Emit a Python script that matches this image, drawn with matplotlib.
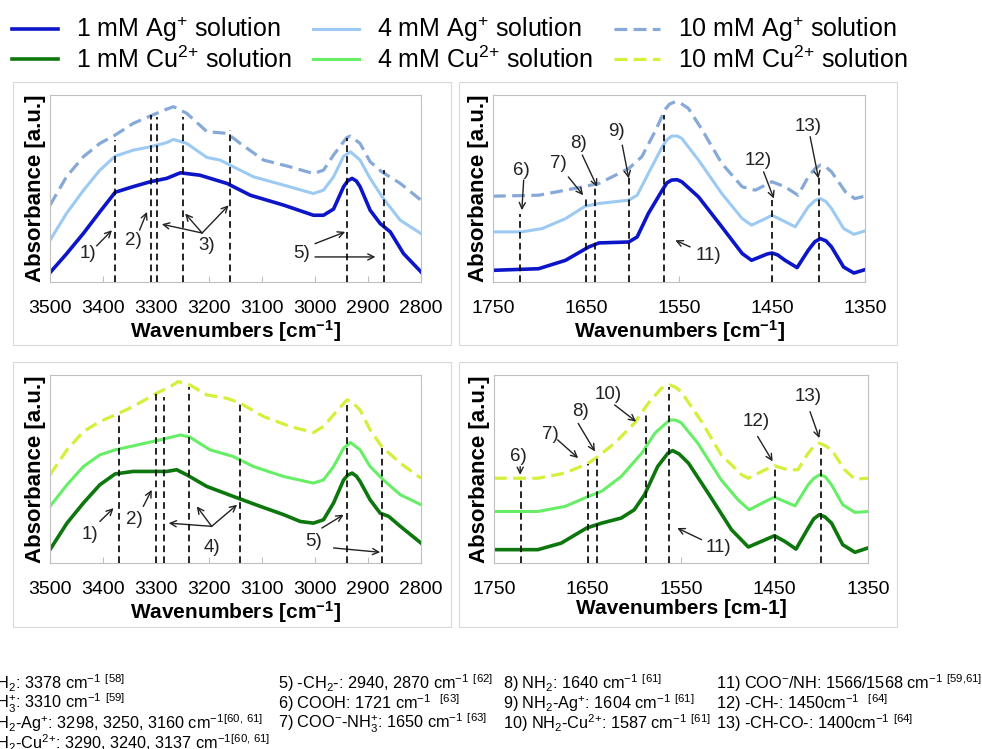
import matplotlib
matplotlib.use("Agg")
import matplotlib.pyplot as plt
from matplotlib.patches import Rectangle

plt.rcParams['font.family'] = ['Liberation Sans', 'DejaVu Sans']
plt.rcParams['mathtext.fontset'] = 'custom'
plt.rcParams['mathtext.rm'] = 'Liberation Sans'
plt.rcParams['mathtext.bf'] = 'Liberation Sans:bold'
plt.rcParams['mathtext.default'] = 'regular'

W, H = 982, 749

# ---- top left: Ag+, 3500-2800 cm-1
tl_ag1_wn = [3500, 3469, 3437, 3406, 3377, 3343, 3311, 3280, 3254, 3217, 3166, 3122, 3059, 3003, 2984, 2965, 2946, 2938, 2930, 2922, 2915, 2896, 2877, 2858, 2833, 2800]
tl_ag1_abs = [0.05, 0.15, 0.26, 0.375, 0.48, 0.51, 0.536, 0.554, 0.584, 0.571, 0.527, 0.464, 0.411, 0.357, 0.357, 0.39, 0.51, 0.542, 0.554, 0.54, 0.51, 0.384, 0.3125, 0.268, 0.152, 0.054]
tl_ag4_wn = [3500, 3469, 3437, 3406, 3377, 3343, 3311, 3280, 3267, 3242, 3204, 3179, 3154, 3116, 3059, 3003, 2984, 2965, 2946, 2933, 2915, 2896, 2871, 2839, 2800]
tl_ag4_abs = [0.223, 0.366, 0.49, 0.598, 0.673, 0.705, 0.723, 0.745, 0.7625, 0.741, 0.666, 0.652, 0.616, 0.5625, 0.518, 0.473, 0.491, 0.5625, 0.673, 0.696, 0.652, 0.554, 0.446, 0.33, 0.259]
tl_ag10_wn = [3500, 3469, 3437, 3406, 3377, 3343, 3311, 3280, 3267, 3242, 3204, 3166, 3141, 3097, 3047, 3003, 2984, 2965, 2940, 2933, 2915, 2896, 2874, 2839, 2800]
tl_ag10_abs = [0.41, 0.5625, 0.67, 0.741, 0.786, 0.848, 0.8875, 0.924, 0.9375, 0.902, 0.804, 0.795, 0.741, 0.652, 0.616, 0.58, 0.598, 0.679, 0.773, 0.78, 0.741, 0.643, 0.589, 0.527, 0.4375]
tl_marks = [3378, 3310, 3298, 3250, 3160, 2940, 2870]
tl_marks_top = [0.759, 0.893, 0.884, 0.884, 0.8125, 0.768, 0.598]

# ---- top right: Ag+, 1750-1350 cm-1
tr_ag1_wn = [1750, 1701, 1672, 1647, 1636, 1604, 1595, 1583, 1568, 1563, 1558, 1552, 1547, 1529, 1504, 1482, 1472, 1455, 1450, 1444, 1436, 1423, 1411, 1404, 1398, 1392, 1386, 1373, 1362, 1350]
tr_ag1_abs = [0.0625, 0.071, 0.116, 0.1875, 0.209, 0.214, 0.241, 0.366, 0.491, 0.53, 0.545, 0.547, 0.536, 0.455, 0.295, 0.152, 0.116, 0.15, 0.155, 0.145, 0.116, 0.077, 0.17, 0.215, 0.232, 0.22, 0.1875, 0.08, 0.048, 0.066]
tr_ag4_wn = [1750, 1719, 1697, 1672, 1651, 1636, 1604, 1595, 1583, 1568, 1563, 1558, 1552, 1547, 1529, 1504, 1482, 1472, 1457, 1450, 1439, 1425, 1411, 1404, 1398, 1392, 1386, 1373, 1362, 1350]
tr_ag4_abs = [0.268, 0.268, 0.286, 0.339, 0.405, 0.42, 0.4375, 0.464, 0.58, 0.723, 0.76, 0.78, 0.781, 0.768, 0.652, 0.473, 0.339, 0.304, 0.339, 0.357, 0.33, 0.295, 0.402, 0.435, 0.446, 0.43, 0.393, 0.286, 0.255, 0.273]
tr_ag10_wn = [1750, 1701, 1672, 1636, 1604, 1590, 1575, 1565, 1560, 1554, 1548, 1540, 1525, 1504, 1482, 1468, 1450, 1436, 1422, 1411, 1404, 1398, 1392, 1386, 1371, 1361, 1350]
tr_ag10_abs = [0.459, 0.464, 0.491, 0.527, 0.607, 0.67, 0.8125, 0.923, 0.952, 0.964, 0.955, 0.929, 0.8125, 0.634, 0.509, 0.491, 0.536, 0.509, 0.464, 0.5625, 0.605, 0.625, 0.615, 0.589, 0.482, 0.446, 0.459]
tr_marks = [1721, 1650, 1640, 1604, 1566, 1450, 1400]
tr_marks_top = [0.366, 0.446, 0.518, 0.5625, 0.893, 0.4375, 0.5625]

# ---- bottom left: Cu2+, 3500-2800 cm-1
bl_cu1_wn = [3500, 3468, 3437, 3406, 3377, 3343, 3280, 3261, 3242, 3204, 3154, 3103, 3059, 3028, 3003, 2984, 2965, 2946, 2938, 2930, 2922, 2915, 2896, 2877, 2861, 2839, 2800]
bl_cu1_abs = [0.071, 0.212, 0.319, 0.416, 0.474, 0.487, 0.487, 0.496, 0.469, 0.407, 0.354, 0.301, 0.257, 0.221, 0.212, 0.23, 0.319, 0.442, 0.468, 0.478, 0.462, 0.434, 0.336, 0.265, 0.248, 0.195, 0.106]
bl_cu4_wn = [3500, 3468, 3437, 3406, 3377, 3343, 3292, 3254, 3236, 3198, 3154, 3116, 3059, 3003, 2984, 2965, 2946, 2933, 2915, 2896, 2871, 2839, 2800]
bl_cu4_abs = [0.301, 0.416, 0.513, 0.575, 0.602, 0.623, 0.655, 0.681, 0.669, 0.602, 0.566, 0.513, 0.46, 0.425, 0.442, 0.513, 0.611, 0.641, 0.602, 0.513, 0.442, 0.363, 0.31]
bl_cu10_wn = [3500, 3468, 3437, 3406, 3377, 3343, 3299, 3273, 3258, 3236, 3204, 3166, 3141, 3097, 3047, 3003, 2984, 2965, 2940, 2933, 2915, 2896, 2874, 2839, 2800]
bl_cu10_abs = [0.469, 0.602, 0.699, 0.752, 0.788, 0.832, 0.903, 0.938, 0.965, 0.947, 0.894, 0.876, 0.85, 0.779, 0.726, 0.694, 0.726, 0.788, 0.867, 0.864, 0.814, 0.708, 0.619, 0.531, 0.451]
bl_marks = [3370, 3300, 3285, 3238, 3142, 2940, 2873]
bl_marks_top = [0.788, 0.903, 0.885, 0.938, 0.858, 0.841, 0.628]

# ---- bottom right: Cu2+, 1750-1350 cm-1
br_cu1_wn = [1750, 1703, 1678, 1651, 1635, 1614, 1600, 1589, 1575, 1564, 1559, 1552, 1542, 1521, 1496, 1478, 1464, 1450, 1439, 1427, 1414, 1408, 1402, 1396, 1389, 1377, 1364, 1350]
br_cu1_abs = [0.071, 0.071, 0.106, 0.186, 0.212, 0.239, 0.283, 0.363, 0.513, 0.584, 0.598, 0.58, 0.531, 0.372, 0.177, 0.085, 0.115, 0.145, 0.115, 0.074, 0.186, 0.235, 0.257, 0.245, 0.212, 0.097, 0.057, 0.08]
br_cu4_wn = [1750, 1703, 1674, 1651, 1635, 1614, 1592, 1578, 1568, 1562, 1556, 1550, 1532, 1507, 1489, 1477, 1460, 1450, 1439, 1428, 1414, 1408, 1402, 1396, 1389, 1377, 1364, 1350]
br_cu4_abs = [0.274, 0.274, 0.301, 0.35, 0.381, 0.46, 0.584, 0.69, 0.735, 0.761, 0.76, 0.747, 0.637, 0.442, 0.336, 0.283, 0.327, 0.35, 0.327, 0.304, 0.416, 0.45, 0.469, 0.46, 0.416, 0.31, 0.269, 0.274]
br_cu10_wn = [1750, 1703, 1674, 1649, 1639, 1621, 1600, 1585, 1571, 1562, 1556, 1550, 1528, 1507, 1485, 1478, 1460, 1450, 1436, 1425, 1414, 1408, 1402, 1396, 1389, 1375, 1364, 1350]
br_cu10_abs = [0.451, 0.451, 0.478, 0.531, 0.566, 0.637, 0.743, 0.85, 0.929, 0.947, 0.935, 0.912, 0.752, 0.575, 0.469, 0.451, 0.496, 0.517, 0.496, 0.496, 0.584, 0.62, 0.637, 0.625, 0.602, 0.496, 0.446, 0.451]
br_marks = [1721, 1650, 1640, 1587, 1563, 1450, 1400]
br_marks_top = [0.451, 0.527, 0.566, 0.796, 0.938, 0.513, 0.628]

# peak labels: (text, text position, [(arrow tail, arrow head), ...])
tl_notes = [("1)", (3428, 0.152), [((3412, 0.193), (3383, 0.277))]),
            ("2)", (3343, 0.223), [((3331, 0.277), (3317, 0.375))]),
            ("3)", (3204, 0.196), [((3213, 0.262), (3289, 0.309)), ((3213, 0.262), (3245, 0.366)), ((3213, 0.262), (3163, 0.41))]),
            ("5)", (3025, 0.152), [((3000, 0.205), (2943, 0.268)), ((3000, 0.134), (2886, 0.134))])]
tr_notes = [("6)", (1719, 0.598), [((1717, 0.545), (1719, 0.384))]),
            ("7)", (1680, 0.634), [((1669, 0.562), (1653, 0.464))]),
            ("8)", (1658, 0.741), [((1654, 0.679), (1638, 0.509))]),
            ("9)", (1617, 0.804), [((1611, 0.732), (1604, 0.554))]),
            ("11)", (1518, 0.143), [((1538, 0.1875), (1554, 0.223))]),
            ("12)", (1465, 0.652), [((1459, 0.589), (1448, 0.446))]),
            ("13)", (1411, 0.83), [((1409, 0.777), (1400, 0.554))])]
bl_notes = [("1)", (3424, 0.15), [((3406, 0.221), (3380, 0.292))]),
            ("2)", (3340, 0.23), [((3324, 0.301), (3308, 0.389))]),
            ("4)", (3195, 0.08), [((3195, 0.195), (3276, 0.212)), ((3195, 0.195), (3223, 0.301)), ((3195, 0.195), (3147, 0.31))]),
            ("5)", (3003, 0.115), [((2987, 0.186), (2946, 0.257)), ((2965, 0.08), (2877, 0.057))])]
br_notes = [("6)", (1724, 0.566), [((1722, 0.513), (1722, 0.469))]),
            ("7)", (1690, 0.681), [((1682, 0.655), (1660, 0.558))]),
            ("8)", (1657, 0.805), [((1660, 0.743), (1642, 0.593))]),
            ("10)", (1628, 0.894), [((1621, 0.841), (1598, 0.752))]),
            ("11)", (1510, 0.08), [((1528, 0.124), (1554, 0.186))]),
            ("12)", (1470, 0.752), [((1468, 0.673), (1452, 0.54))]),
            ("13)", (1414, 0.885), [((1412, 0.805), (1402, 0.664))])]

labels_ag = ["1 mM Ag$^{+}$ solution", "4 mM Ag$^{+}$ solution", "10 mM Ag$^{+}$ solution"]
labels_cu = ["1 mM Cu$^{2{+}}$ solution", "4 mM Cu$^{2{+}}$ solution", "10 mM Cu$^{2{+}}$ solution"]
colors_ag = ["#0c16c8", "#9ccaf2", "#86a9d8"]
colors_cu = ["#0d770d", "#66ee66", "#d4f03a"]

assign_text = [
    ["1) NH$_2$: 3378 cm$^{-1}$ $^{[58]}$",
     "2) NH$_3^{+}$: 3310 cm$^{-1}$ $^{[59]}$",
     "3) NH$_2$-Ag$^{+}$: 3298, 3250, 3160 cm$^{-1}$$^{[60{,}\\ 61]}$",
     "4) NH$_2$-Cu$^{2{+}}$: 3290, 3240, 3137 cm$^{-1}$$^{[60{,}\\ 61]}$"],
    ["5) -CH$_2$-: 2940, 2870 cm$^{-1}$ $^{[62]}$",
     "6) COOH: 1721 cm$^{-1}$  $^{[63]}$",
     "7) COO$^{-}$-NH$_3^{+}$: 1650 cm$^{-1}$ $^{[63]}$"],
    ["8) NH$_2$: 1640 cm$^{-1}$ $^{[61]}$",
     "9) NH$_2$-Ag$^{+}$: 1604 cm$^{-1}$ $^{[61]}$",
     "10) NH$_2$-Cu$^{2{+}}$: 1587 cm$^{-1}$ $^{[61]}$"],
    ["11) COO$^{-}$/NH: 1566/1568 cm$^{-1}$ $^{[59{,}61]}$",
     "12) -CH-: 1450cm$^{-1}$  $^{[64]}$",
     "13) -CH-CO-: 1400cm$^{-1}$ $^{[64]}$"],
]


def px_box(x0, y0, x1, y1):
    return [x0 / W, 1 - y1 / H, (x1 - x0) / W, (y1 - y0) / H]


fig = plt.figure(figsize=(W / 100, H / 100), dpi=100)

# light grey frames round each panel
for box in [(13, 82, 451, 345), (459, 82, 897, 345), (13, 362, 451, 627), (459, 362, 897, 627)]:
    x0, y0, x1, y1 = box
    fig.add_artist(Rectangle((x0 / W, 1 - y1 / H), (x1 - x0) / W, (y1 - y0) / H,
                             transform=fig.transFigure, fill=False, ec="#d9d9d9", lw=0.8))


def panel(box, series, colors, labels, marks, marks_top, notes, xlim, xticks, xlabel):
    ax = fig.add_axes(px_box(*box))
    lines = []
    for (wn, ab), c, lab, i in zip(series, colors, labels, range(3)):
        if i == 2:
            ln, = ax.plot(wn, ab, color=c, lw=2.3, ls=(0, (4, 2)), label=lab, solid_joinstyle="round")
        else:
            ln, = ax.plot(wn, ab, color=c, lw=2.6 if i == 0 else 2.2, label=lab, solid_joinstyle="round")
        lines.append(ln)
    ax.vlines(marks, 0, marks_top, colors="black", linestyles=(0, (4, 2.5)), lw=1.2, zorder=4)
    for txt, pos, arrows in notes:
        ax.text(pos[0], pos[1], txt, fontsize=13.5, ha="center", va="center", color="#222222")
        for tail, head in arrows:
            ax.annotate("", xy=head, xytext=tail,
                        arrowprops=dict(arrowstyle="->", color="#222222", lw=1, shrinkA=0, shrinkB=0,
                                        mutation_scale=11))
    ax.set_xlim(*xlim)
    ax.set_ylim(0, 1)
    ax.set_xticks(xticks)
    ax.set_yticks([])
    ax.tick_params(axis="x", direction="in", length=4, width=0.8, color="#c0c0c0",
                   labelsize=14, pad=13)
    for s in ax.spines.values():
        s.set_color("#c0c0c0")
        s.set_linewidth(0.8)
    ax.set_xlabel(xlabel, fontsize=15, fontweight="bold", labelpad=1)
    ax.set_ylabel("Absorbance [a.u.]", fontsize=16, fontweight="bold", labelpad=3)
    return lines


wide_ticks = [3500, 3400, 3300, 3200, 3100, 3000, 2900, 2800]
narrow_ticks = [1750, 1650, 1550, 1450, 1350]

ag_lines = panel((50, 95, 421, 282),
                 [(tl_ag1_wn, tl_ag1_abs), (tl_ag4_wn, tl_ag4_abs), (tl_ag10_wn, tl_ag10_abs)],
                 colors_ag, labels_ag, tl_marks, tl_marks_top, tl_notes, (3500, 2800), wide_ticks,
                 "Wavenumbers [cm$^{-1}$]")
panel((493, 95, 865, 282),
      [(tr_ag1_wn, tr_ag1_abs), (tr_ag4_wn, tr_ag4_abs), (tr_ag10_wn, tr_ag10_abs)],
      colors_ag, labels_ag, tr_marks, tr_marks_top, tr_notes, (1750, 1350), narrow_ticks,
      "Wavenumbers [cm$^{-1}$]")
cu_lines = panel((50, 375, 421, 563),
                 [(bl_cu1_wn, bl_cu1_abs), (bl_cu4_wn, bl_cu4_abs), (bl_cu10_wn, bl_cu10_abs)],
                 colors_cu, labels_cu, bl_marks, bl_marks_top, bl_notes, (3500, 2800), wide_ticks,
                 "Wavenumbers [cm$^{-1}$]")
panel((494, 375, 868, 563),
      [(br_cu1_wn, br_cu1_abs), (br_cu4_wn, br_cu4_abs), (br_cu10_wn, br_cu10_abs)],
      colors_cu, labels_cu, br_marks, br_marks_top, br_notes, (1750, 1350), narrow_ticks,
      "Wavenumbers [cm-1]")

# legend: columns filled top to bottom
handles = [ag_lines[0], cu_lines[0], ag_lines[1], cu_lines[1], ag_lines[2], cu_lines[2]]
fig.legend(handles, [h.get_label() for h in handles], loc="upper left",
           bbox_to_anchor=(12 / W, 1 - 15 / H), ncol=3, frameon=False, fontsize=18,
           handlelength=1.85, handletextpad=0.7, columnspacing=0.85, labelspacing=0.08,
           borderaxespad=0, borderpad=0)

# band assignment list under the panels (left column runs off the page)
col_x = [-34, 278, 503, 716]
row_y = [683, 703, 723, 743]
for cx, rows in zip(col_x, assign_text):
    for ry, t in zip(row_y, rows):
        fig.text(cx / W, 1 - ry / H, t, fontsize=11.7, ha="left", va="center")

fig.savefig("out.png", dpi=100)
